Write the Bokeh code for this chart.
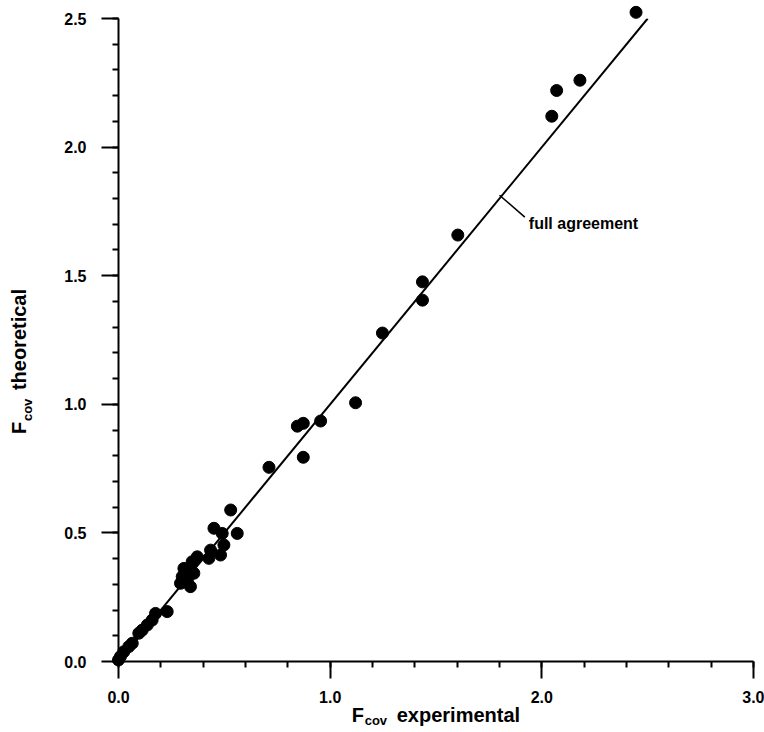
import math
from bokeh.plotting import figure
from bokeh.models import Range1d, FixedTicker, PrintfTickFormatter
from bokeh.core.properties import value
from bokeh.embed import file_html
from bokeh.resources import INLINE

# Data
exp_vals = [2.445, 2.18, 2.07, 2.047, 1.603, 1.436, 1.436, 1.247, 1.12, 0.955,
            0.873, 0.845, 0.873, 0.711, 0.53, 0.561, 0.451, 0.49, 0.498, 0.435,
            0.482, 0.427, 0.372, 0.348, 0.309, 0.333, 0.356, 0.301, 0.325, 0.34,
            0.293, 0.230, 0.175, 0.159, 0.136, 0.112, 0.096, 0.065, 0.049, 0.025,
            0.009, 0.0]
theo_vals = [2.524, 2.26, 2.22, 2.12, 1.658, 1.476, 1.405, 1.277, 1.006, 0.935,
             0.926, 0.915, 0.794, 0.755, 0.589, 0.498, 0.518, 0.498, 0.453, 0.433,
             0.414, 0.401, 0.407, 0.388, 0.362, 0.356, 0.343, 0.33, 0.317, 0.291,
             0.304, 0.194, 0.187, 0.161, 0.142, 0.122, 0.110, 0.071, 0.058, 0.038,
             0.019, 0.006]
agree_x = [0.0, 2.5]
agree_y = [0.0, 2.5]
x_ticks = [0.0, 1.0, 2.0, 3.0]
y_ticks = [0.0, 0.5, 1.0, 1.5, 2.0, 2.5]
annot_on_line = 1.80
annot_text = "full agreement"

FONT = "Liberation Sans"

p = figure(width=764, height=732, output_backend="svg", toolbar_location=None,
           x_range=Range1d(0, 3.0), y_range=Range1d(0, 2.5),
           min_border_left=118, min_border_right=11, min_border_top=18,
           min_border_bottom=71)
p.outline_line_color = None
p.xgrid.visible = False
p.ygrid.visible = False
p.background_fill_color = "white"
p.border_fill_color = "white"

p.xaxis.ticker = FixedTicker(ticks=x_ticks,
                             minor_ticks=[i * 0.2 for i in range(16)])
p.yaxis.ticker = FixedTicker(ticks=y_ticks,
                             minor_ticks=[i * 0.1 for i in range(26)])
for ax in (p.xaxis, p.yaxis):
    ax.formatter = PrintfTickFormatter(format="%.1f")
    ax.axis_line_width = 2
    ax.major_tick_line_width = 2
    ax.minor_tick_line_width = 2
    ax.major_tick_out = 17
    ax.major_tick_in = 0
    ax.minor_tick_out = 6
    ax.minor_tick_in = 0
    ax.major_label_text_font = FONT
    ax.major_label_text_font_style = "bold"
    ax.major_label_text_font_size = "16px"
    ax.major_label_text_color = "black"
    ax.axis_line_color = "black"
    ax.major_tick_line_color = "black"
    ax.minor_tick_line_color = "black"
p.xaxis.major_label_standoff = 12
p.yaxis.major_label_standoff = 15

p.line(agree_x, agree_y, line_color="black", line_width=2)
p.scatter(exp_vals, theo_vals, size=12, fill_color="black", line_color="black",
          level="overlay")

# pixel -> data helpers for text placement
def dx(px):
    return (px - 118) / 211.5

def dy(py):
    return (661.5 - py) / 257.3

# annotation pointer
p.line([annot_on_line, dx(524)], [annot_on_line + 0.013, dy(217)],
       line_color="black", line_width=1.5)

def lab(x, y, text, size, angle=0.0):
    p.text(x=[x], y=[y], text=[text], text_font=value(FONT),
           text_font_style="bold", text_font_size=size,
           text_baseline="middle", text_align="left", angle=angle,
           text_color="black", level="overlay")

lab(dx(528), dy(223), annot_text, "16px")

# x axis label: F_cov experimental
lab(dx(351), dy(715), "F", "20px")
lab(dx(364), dy(721), "cov", "13px")
lab(dx(396), dy(715), "experimental", "20px")

# y axis label: F_cov theoretical (rotated)
lab(dx(19), dy(434), "F", "20px", angle=math.pi / 2)
lab(dx(27), dy(421), "cov", "13px", angle=math.pi / 2)
lab(dx(19), dy(390), "theoretical", "20px", angle=math.pi / 2)

open("out.html", "w").write(file_html(p, INLINE))
